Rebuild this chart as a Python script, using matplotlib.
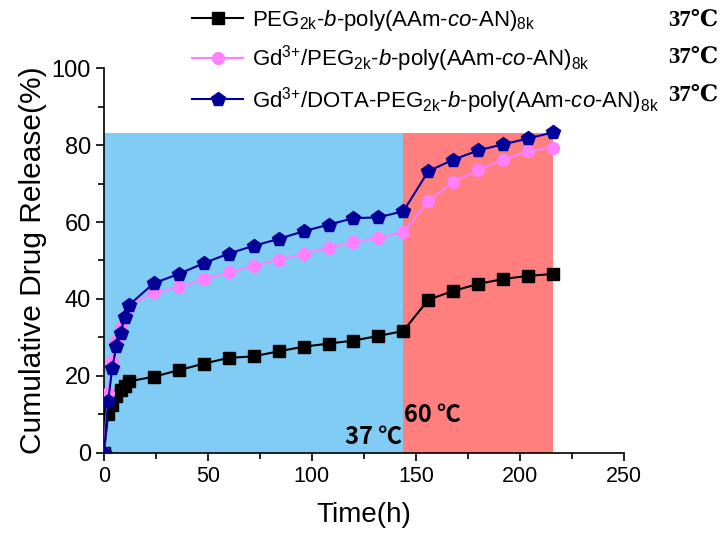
import matplotlib
matplotlib.use('Agg')
import matplotlib.pyplot as plt
from matplotlib.patches import Rectangle

plt.rcParams['font.family'] = ['Liberation Sans', 'DejaVu Sans']
plt.rcParams['mathtext.fontset'] = 'custom'
plt.rcParams['mathtext.rm'] = 'Liberation Sans'
plt.rcParams['mathtext.it'] = 'Liberation Sans:italic'
plt.rcParams['mathtext.bf'] = 'Liberation Sans:bold'

# sampling times (h)
time = [0, 2, 4, 6, 8, 10, 12, 24, 36, 48, 60, 72, 84, 96, 108, 120, 132, 144,
        156, 168, 180, 192, 204, 216]

# cumulative release (%)
peg_release = [0, 10.0, 12.5, 14.7, 16.4, 17.5, 18.6, 19.8, 21.5, 23.2, 24.7, 25.1,
               26.4, 27.6, 28.4, 29.2, 30.4, 31.7, 39.8, 42.1, 43.9, 45.2, 46.0, 46.5]
gd_peg_release = [0, 15.6, 23.8, 29.1, 32.6, 35.6, 38.2, 41.7, 43.0, 45.2, 46.9, 48.6,
                  50.2, 51.7, 53.3, 54.8, 55.9, 57.4, 65.4, 70.4, 73.4, 76.2, 78.4, 79.3]
gd_dota_release = [0, 13.4, 22.1, 27.8, 31.1, 35.3, 38.4, 44.1, 46.5, 49.3, 51.8, 53.8,
                   55.6, 57.6, 59.3, 61.0, 61.2, 62.8, 73.2, 76.2, 78.6, 80.2, 81.7, 83.3]

labels = [
    r'PEG$_{\mathrm{2k}}$-$b$-poly(AAm-$co$-AN)$_{\mathrm{8k}}$',
    r'Gd$^{\text{3+}}$/PEG$_{\mathrm{2k}}$-$b$-poly(AAm-$co$-AN)$_{\mathrm{8k}}$',
    r'Gd$^{\text{3+}}$/DOTA-PEG$_{\mathrm{2k}}$-$b$-poly(AAm-$co$-AN)$_{\mathrm{8k}}$',
]
temp_label = '37℃'

# heating stages: (start, end, top, colour)
stages = [(0, 144, 83, '#80CCF5'), (144, 216, 83, '#FF7F7F')]

fig = plt.figure(figsize=(7.27, 5.36), dpi=100)
ax = fig.add_axes([0.143, 0.155, 0.715, 0.718])

for start, end, top, color in stages:
    ax.add_patch(Rectangle((start, 0), end - start, top, facecolor=color, edgecolor='none', zorder=0))

h1, = ax.plot(time, peg_release, color='black', marker='s', markersize=8, linewidth=1.5, zorder=3)
h2, = ax.plot(time, gd_peg_release, color='#FF80FF', marker='o', markersize=8.5, linewidth=1.5, zorder=3)
h3, = ax.plot(time, gd_dota_release, color='#000099', marker='p', markersize=10, linewidth=1.5, zorder=4)

ax.set_xlim(0, 250)
ax.set_ylim(0, 100)
ax.set_xticks(range(0, 251, 50))
ax.set_xticks(range(0, 251, 25), minor=True)
ax.set_yticks(range(0, 101, 20))
ax.set_yticks(range(0, 101, 10), minor=True)
ax.spines['top'].set_visible(False)
ax.spines['right'].set_visible(False)
for s in ['left', 'bottom']:
    ax.spines[s].set_linewidth(1.2)
ax.tick_params(which='major', direction='out', length=6, width=1.2)
ax.tick_params(which='minor', direction='out', length=4, width=1.2)
ax.tick_params(axis='y', labelsize=17)
ax.tick_params(axis='x', labelsize=15.5)

ax.set_xlabel('Time(h)', fontsize=20, labelpad=11)
ax.set_ylabel('Cumulative Drug Release(%)', fontsize=21.5, labelpad=3)

bold_font = ['Noto Sans CJK KR', 'DejaVu Sans']
ax.text(143.5, 1.0, '37 ℃', ha='right', va='bottom', fontsize=17, fontweight='bold', family=bold_font, zorder=5)
ax.text(144.5, 6.8, '60 ℃', ha='left', va='bottom', fontsize=17, fontweight='bold', family=bold_font, zorder=5)

leg = fig.legend([h1, h2, h3], labels, loc='upper left', bbox_to_anchor=(192 / 727, 1 - 8 / 536),
                 frameon=False, fontsize=16, handlelength=2.3, handletextpad=0.4,
                 labelspacing=0.47, borderpad=0, borderaxespad=0)

for i, y in enumerate([20, 57, 95]):
    fig.text(718 / 727, 1 - y / 536, temp_label, ha='right', va='center', fontsize=16.5,
             fontweight='bold', family=['Liberation Serif', 'DejaVu Serif'])

fig.savefig('out.png', dpi=100)
